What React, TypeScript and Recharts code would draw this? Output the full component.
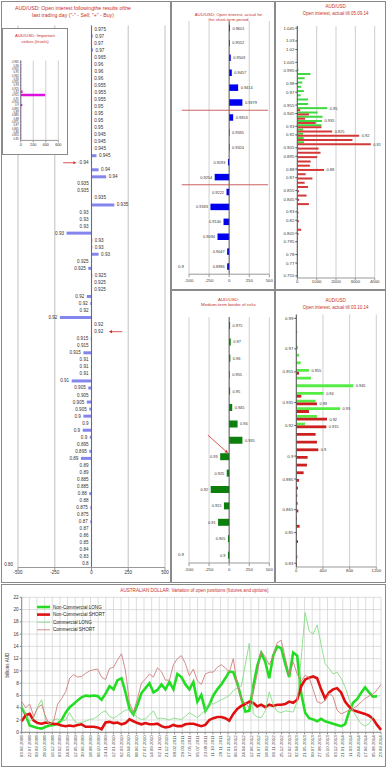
import React from 'react';
import {
  BarChart,
  Bar,
  LineChart,
  Line,
  XAxis,
  YAxis,
  CartesianGrid,
  ReferenceLine,
  LabelList,
  Legend,
} from 'recharts';

const FONT = '"Liberation Sans", Arial, sans-serif';
const TITLE_RED = '#c8302c';
const TICK_COLOR = '#333333';
const GRID = '#cfcfcf';
const ARROW_RED = '#d02828';

// --- open interest after the last trading day (left panel) ---
const lastDayStrikes = [
  '0.975', '0.97', '0.97', '0.97', '0.965', '0.96', '0.96', '0.96', '0.955', '0.955',
  '0.955', '0.95', '0.95', '0.95', '0.95', '0.945', '0.945', '0.945', '0.945', '0.94',
  '0.94', '0.94', '0.935', '0.935', '0.935', '0.935', '0.93', '0.93', '0.93', '0.93',
  '0.93', '0.93', '0.93', '0.925', '0.925', '0.925', '0.925', '0.925', '0.92', '0.92',
  '0.92', '0.92', '0.92', '0.92', '0.915', '0.915', '0.915', '0.91', '0.91', '0.91',
  '0.91', '0.905', '0.905', '0.905', '0.905', '0.9', '0.9', '0.9', '0.9', '0.895',
  '0.895', '0.89', '0.89', '0.89', '0.885', '0.885', '0.88', '0.88', '0.875', '0.875',
  '0.87', '0.87', '0.86', '0.85', '0.84', '0.83', '0.8',
];
const lastDayOI = [
  3, 8, 2, 10, 2, 2, 3, 2, 2, 3,
  2, 2, 3, 2, 2, 2, 2, 3, 34, -3,
  48, 100, -2, -2, 3, 155, -3, -3, -3, -170,
  5, 5, 48, -3, -22, 5, 2, 2, -32, -8,
  -3, -215, 2, 2, -5, -3, -55, -3, -3, -3,
  -135, -22, -3, -32, -15, -55, -3, -60, -12, -3,
  -15, -72, -3, -3, -3, -3, -15, -3, -8, -3,
  -8, -3, -3, -3, -3, -3, -3,
];
const lastDayAxisLabel = '0.80';

// --- important strikes (inset) ---
const levelStrikes = [
  '0.965', '0.96', '0.955', '0.95', '0.945', '0.94', '0.935', '0.93', '0.925', '0.92', '0.915', '0.91',
  '0.905', '0.9', '0.895', '0.89', '0.885', '0.88', '0.875', '0.87', '0.865', '0.86', '0.855', '0.85',
];
const levelWeights = [8, 8, 8, 8, 8, 8, 8, 8, 8, 30, 390, 8, 8, 25, 8, 8, 8, 8, 8, 8, 8, 8, 8, 8];

// --- short-term open interest ---
const shortStrikes = [
  '0.9601', '0.9552', '0.9503', '0.9457', '0.9414', '0.9379', '0.9353', '0.9335', '0.9324',
  '0.9293', '0.9254', '0.9222', '0.9183', '0.9140', '0.9094', '0.9047', '0.8986',
];
const shortOI = [10, 8, 20, 33, 112, 165, 50, 5, 5, -15, -180, -33, -233, -70, -145, -25, -25];

// --- medium-term border of risks ---
const mediumStrikes = [
  '0.975', '0.97', '0.96', '0.955', '0.95', '0.945', '0.94', '0.935', '0.93', '0.925', '0.92',
  '0.915', '0.91', '0.905', '0.9',
];
const mediumOI = [12, 20, 15, 8, 12, 38, 105, 165, -112, -30, -230, -65, -138, -15, -15];
const middleAxisLabel = '0.9';

// --- open interest till 05.09.14 ---
const sepStrikes = [
  '1.045', '1.04', '1.035', '1.03', '1.025', '1.02', '1.015', '1.01', '1.005', '1',
  '0.995', '0.99', '0.985', '0.98', '0.975', '0.97', '0.965', '0.96', '0.955', '0.95',
  '0.945', '0.94', '0.935', '0.93', '0.925', '0.92', '0.915', '0.91', '0.905', '0.9',
  '0.895', '0.89', '0.885', '0.88', '0.875', '0.87', '0.865', '0.86', '0.855', '0.85',
  '0.845', '0.84', '0.835', '0.83', '0.825', '0.82', '0.815', '0.81', '0.805', '0.8',
  '0.795', '0.79', '0.785', '0.78', '0.775', '0.77', '0.765', '0.76', '0.755',
];
const sepCalls = [
  0, 0, 0, 0, 0, 0, 0, 0, 0, 40,
  60, 680, 380, 260, 200, 340, 170, 550, 560, 1550,
  1050, 1300, 1280, 1250, 300, 300, 330, 350, 0, 0,
  0, 0, 0, 0, 0, 0, 0, 0, 0, 0,
  0, 0, 0, 0, 0, 0, 0, 0, 0, 0,
  0, 0, 0, 0, 0, 0, 0, 0, 0,
];
const sepPuts = [
  0, 0, 0, 0, 0, 0, 0, 0, 0, 0,
  0, 0, 0, 0, 0, 0, 0, 0, 0, 150,
  600, 400, 950, 1250, 1800, 3200, 2850, 3800, 1100, 1200,
  1030, 690, 650, 1380, 430, 780, 380, 550, 90, 480,
  100, 600, 40, 60, 40, 80, 30, 200, 60, 30,
  20, 30, 20, 30, 20, 20, 30, 20, 20,
];
const sepTicks = [
  '1.045', '1.03', '1.02', '1.005', '0.995', '0.98', '0.97', '0.955', '0.945', '0.93', '0.92', '0.905',
  '0.895', '0.88', '0.87', '0.855', '0.845', '0.83', '0.82', '0.805', '0.795', '0.78', '0.77', '0.755',
];
const sepCallTags = [['0.95', '0.95'], ['0.935', '0.935']];
const sepPutTags = [['0.925', '0.925'], ['0.92', '0.92'], ['0.91', '0.91'], ['0.88', '0.88']];

// --- open interest till 03.10.14 ---
const octStrikes = [
  '0.99', '0.985', '0.98', '0.975', '0.97', '0.965', '0.96', '0.955', '0.95', '0.945', '0.94',
  '0.935', '0.93', '0.925', '0.92', '0.915', '0.91', '0.905', '0.9', '0.895', '0.89', '0.885',
  '0.88', '0.875', '0.87', '0.865', '0.86', '0.855', '0.85', '0.845', '0.84', '0.835', '0.83',
];
const octCalls = [
  5, 5, 15, 5, 25, 40, 65, 190, 220, 855, 410,
  290, 657, 310, 130, 0, 0, 0, 0, 0, 0, 0,
  0, 0, 0, 0, 0, 0, 0, 0, 0, 0, 0,
];
const octPuts = [
  0, 0, 0, 0, 0, 0, 0, 40, 0, 0, 75,
  310, 190, 460, 450, 290, 310, 330, 170, 160, 110, 40,
  25, 15, 20, 30, 10, 50, 10, 25, 5, 15, 10,
];
const octTicks = ['0.99', '0.97', '0.955', '0.935', '0.92', '0.9', '0.885', '0.865', '0.85', '0.83'];
const octCallTags = [['0.955', '0.955'], ['0.945', '0.945'], ['0.94', '0.94'], ['0.93', '0.93']];
const octPutTags = [['0.935', '0.93'], ['0.925', '0.92'], ['0.92', '0.915'], ['0.905', '0.9']];

// --- COT: variation of open positions, billions AUD ---
const cotDates = [
  '03.06.2008', '22.07.2008', '09.09.2008', '28.10.2008', '16.12.2008', '03.02.2009', '24.03.2009', '12.05.2009',
  '30.06.2009', '18.08.2009', '06.10.2009', '24.11.2009', '12.01.2010', '02.03.2010', '20.04.2010', '08.06.2010',
  '27.07.2010', '14.09.2010', '02.11.2010', '21.12.2010', '08.02.2011', '29.03.2011', '17.05.2011', '05.07.2011',
  '23.08.2011', '11.10.2011', '29.11.2011', '17.01.2012', '06.03.2012', '24.04.2012', '12.06.2012', '31.07.2012',
  '18.09.2012', '06.11.2012', '25.12.2012', '12.02.2013', '02.04.2013', '21.05.2013', '09.07.2013', '27.08.2013',
  '15.10.2013', '03.12.2013', '21.01.2014', '11.03.2014', '29.04.2014', '17.06.2014', '05.08.2014', '23.09.2014',
];
const nonCommLong = [
  4.0, 2.8, 1.1, 0.9, 0.7, 0.6, 0.9, 1.1, 1.2, 1.4,
  2.0, 3.2, 4.1, 4.6, 5.2, 5.7, 6.0, 5.9, 6.0, 5.9,
  5.3, 6.3, 7.5, 7.0, 8.5, 8.8, 6.5, 3.8, 2.9, 4.5,
  6.4, 7.2, 8.0, 6.5, 6.9, 7.8, 7.0, 8.2, 7.0, 9.5,
  9.0, 7.8, 7.0, 8.2, 5.0, 6.1, 3.5, 4.5, 6.0, 7.0,
  7.8, 8.8, 9.9, 9.8, 8.0, 5.6, 3.4, 3.5, 7.5, 10.8,
  12.9, 11.5, 8.8, 12.5, 14.0, 13.7, 11.2, 9.0, 13.0, 12.5,
  6.4, 3.2, 2.3, 2.1, 1.8, 2.2, 1.8, 1.6, 1.4, 1.2,
  1.0, 1.3, 3.3, 4.8, 5.4, 6.4, 7.3, 6.5, 5.8, 5.9,
  null,
];
const nonCommShort = [
  1.8, 2.8, 3.0, 1.9, 1.5, 1.4, 1.6, 1.5, 1.4, 1.3,
  1.1, 1.0, 1.1, 1.0, 1.2, 1.3, 0.9, 0.9, 0.9, 0.8,
  0.5, 1.6, 1.7, 1.5, 1.6, 1.3, 1.5, 2.1, 1.8, 1.5,
  1.3, 1.5, 1.3, 1.3, 1.4, 1.0, 0.8, 0.9, 1.2, 1.0,
  1.0, 1.3, 1.4, 1.4, 1.2, 1.0, 1.2, 2.0, 2.3, 2.5,
  2.5, 2.3, 1.9, 3.0, 3.8, 4.3, 4.6, 5.0, 4.8, 4.2,
  4.5, 4.1, 4.5, 4.3, 4.5, 4.5, 4.6, 5.0, 4.8, 5.3,
  7.5, 8.6, 8.9, 9.1, 8.8, 7.0, 5.5, 6.5, 7.0, 7.2,
  6.5, 5.0, 4.2, 3.6, 3.4, 3.2, 3.0, 2.7, 2.2, 1.2,
  0.4,
];
const commLong = [
  4.5, 2.9, 1.8, 2.3, 4.2, 5.3, 2.0, 1.3, 2.0, 2.2,
  1.8, 2.0, 3.2, 2.0, 1.5, 1.6, 1.8, 2.1, 2.2, 2.6,
  3.2, 3.5, 2.6, 2.3, 2.7, 3.2, 3.6, 3.7, 3.2, 2.4,
  2.1, 2.2, 2.8, 3.5, 2.2, 2.3, 2.2, 2.0, 2.3, 2.2,
  2.1, 2.6, 3.2, 2.8, 2.4, 3.0, 3.6, 4.8, 4.6, 5.0,
  5.3, 5.6, 6.0, 6.8, 7.2, 7.5, 11.0, 14.5, 3.0, 2.5,
  2.4, 3.5, 6.6, 4.5, 3.4, 3.2, 3.5, 3.4, 3.3, 5.0,
  12.0, 19.5, 16.5, 16.0, 17.5, 14.3, 11.2, 10.4, 9.5, 9.8,
  8.8, 7.4, 5.4, 3.5, 2.4, 1.4, 1.0, 1.4, 2.5, null,
  null,
];
const commShort = [
  5.0, 4.0, 4.6, 2.6, 4.0, 4.5, 2.5, 1.3, 1.8, 4.6,
  5.5, 6.6, 8.8, 9.4, 9.0, 9.1, 9.6, 10.0, 10.2, 10.3,
  9.0, 8.6, 10.4, 10.6, 11.8, 12.8, 10.0, 4.8, 3.3, 5.5,
  8.0, 8.7, 9.5, 9.0, 10.5, 9.9, 8.5, 8.5, 11.0, 12.0,
  12.5, 11.2, 9.2, 10.3, 8.4, 7.8, 9.5, 9.8, 9.8, 10.6,
  11.0, 10.5, 9.8, 12.0, 7.8, 5.2, 4.8, 4.0, 6.4, 9.6,
  13.2, 12.3, 11.0, 12.5, 14.6, 15.0, 12.2, 9.3, 11.5, 9.5,
  8.3, 9.3, 8.9, 7.0, 5.0, 4.7, 5.2, 6.4, 5.8, 3.6,
  3.0, 3.3, 3.6, 3.9, 4.3, 4.9, 5.5, 5.9, 6.2, 6.9,
  7.8,
];
const cotYTicks = [0, 2, 4, 6, 8, 10, 12, 14, 16, 18, 20, 22];

const cotSeries = [
  { key: 'ncl', name: 'Non-Commercial LONG', color: '#22dd22', width: 2.6 },
  { key: 'ncs', name: 'Non-Commercial SHORT', color: '#e01010', width: 2.6 },
  { key: 'cl', name: 'Commercial LONG', color: '#86dc86', width: 0.9 },
  { key: 'cs', name: 'Commercial SHORT', color: '#cf7f7f', width: 0.9 },
];

// data tables built from the arrays above
const lastDayData = lastDayStrikes.map((s, i) => ({ i, s, v: lastDayOI[i] }));
const levelData = levelStrikes.map((s, i) => ({ i, s, v: levelWeights[i] }));
const shortData = shortStrikes.map((s, i) => ({ i, s, v: shortOI[i] }));
const mediumData = mediumStrikes.map((s, i) => ({ i, s, v: mediumOI[i] }));
const sepCallMap = Object.fromEntries(sepCallTags);
const sepPutMap = Object.fromEntries(sepPutTags);
const sepData = sepStrikes.map((s, k) => ({
  s, c: sepCalls[k], p: sepPuts[k], ct: sepCallMap[s] ?? '', pt: sepPutMap[s] ?? '',
}));
const octCallMap = Object.fromEntries(octCallTags);
const octPutMap = Object.fromEntries(octPutTags);
const octData = octStrikes.map((s, k) => ({
  s, c: octCalls[k], p: octPuts[k], ct: octCallMap[s] ?? '', pt: octPutMap[s] ?? '',
}));
const cotData = nonCommLong.map((v, i) => ({
  i, ncl: v, ncs: nonCommShort[i], cl: commLong[i], cs: commShort[i],
}));
const cotLast = cotData.length - 1;
const cotXTicks = cotDates.map((_, k) => (k * cotLast) / (cotDates.length - 1));

const tick = (size: number) => ({ fontSize: size, fill: TICK_COLOR, fontFamily: FONT });

// strike label beside a bar: right of positive bars, left of negative ones
const sideLabel = (vals: number[], size: number) => (p: any) => {
  const vb = p.viewBox && p.viewBox.width !== undefined ? p.viewBox : p;
  const { x, y, width, height } = vb;
  if (p.value === '' || p.value == null || x == null) return null;
  const neg = vals[p.index] < 0;
  const left = Math.min(x, x + width);
  const right = Math.max(x, x + width);
  return (
    <text
      x={neg ? left - 2.5 : right + 2.5}
      y={y + height / 2}
      textAnchor={neg ? 'end' : 'start'}
      dominantBaseline="central"
      fontSize={size}
      fill="#333"
      fontFamily={FONT}
    >
      {p.value}
    </text>
  );
};

const Arrow = (p: any) => {
  const { x1, y1, x2, y2 } = p;
  const a = Math.atan2(y2 - y1, x2 - x1);
  const len = 3.2;
  const w = 1.6;
  const bx = x2 - len * Math.cos(a);
  const by = y2 - len * Math.sin(a);
  const pts = `${x2},${y2} ${bx - w * Math.sin(a)},${by + w * Math.cos(a)} ${bx + w * Math.sin(a)},${by - w * Math.cos(a)}`;
  return (
    <g>
      <line x1={x1} y1={y1} x2={bx} y2={by} stroke={ARROW_RED} strokeWidth={0.8} />
      <polygon points={pts} fill={ARROW_RED} />
    </g>
  );
};

const DateTick = (p: any) => {
  const { x, y, payload } = p;
  const k = Math.round((payload.value * (cotDates.length - 1)) / cotLast);
  return (
    <text
      x={x}
      y={y}
      transform={`rotate(-90 ${x} ${y})`}
      textAnchor="end"
      dominantBaseline="central"
      fontSize={4.4}
      fill="#444"
      fontFamily={FONT}
    >
      {cotDates[k]}
    </text>
  );
};

const Frame = ({ left, top, width, height, bg }: any) => (
  <div
    style={{
      position: 'absolute', left, top, width, height, boxSizing: 'border-box',
      border: '1px solid #8a8a8a', background: bg ?? 'transparent',
    }}
  />
);

const Title = ({ x, y, lines, size = 4.6, gap = 6 }: any) => (
  <svg style={{ position: 'absolute', left: 0, top: 0, overflow: 'visible' }} width={1} height={1}>
    {lines.map((t: string, k: number) => (
      <text
        key={k}
        x={x}
        y={y + k * gap}
        textAnchor="middle"
        dominantBaseline="central"
        fontSize={size}
        fill={TITLE_RED}
        fontFamily={FONT}
      >
        {t}
      </text>
    ))}
  </svg>
);

const At = ({ left, top, children }: any) => (
  <div style={{ position: 'absolute', left, top }}>{children}</div>
);

const SplitChart = ({ data, vals, domainMax, axisLabel, fill, barSize, top, bottom, height, children }: any) => (
  <BarChart
    width={104}
    height={height}
    layout="vertical"
    data={data}
    margin={{ top, right: 5.7, bottom, left: 0 }}
  >
    <CartesianGrid horizontal={false} stroke={GRID} strokeWidth={1} />
    <XAxis
      type="number"
      domain={[-500, 500]}
      ticks={[-500, -250, 0, 250, 500]}
      height={10}
      tick={tick(4.3)}
      tickSize={3}
      tickMargin={2}
      stroke="#999"
      interval={0}
    />
    <YAxis
      type="number"
      dataKey="i"
      domain={[-0.5, domainMax]}
      ticks={[data.length - 1]}
      tickFormatter={() => axisLabel}
      width={18}
      axisLine={false}
      tickLine={false}
      tick={tick(4.3)}
      tickSize={3}
      tickMargin={2}
    />
    <ReferenceLine x={0} stroke="#444" strokeWidth={0.8} />
    {children}
    <Bar dataKey="v" fill={fill} barSize={barSize} isAnimationActive={false}>
      <LabelList dataKey="s" content={sideLabel(vals, 3.9)} />
    </Bar>
  </BarChart>
);

const CallPutChart = ({ data, ticks, max, xTicks, colors, barSize, top, bottom, height, yWidth, right }: any) => (
  <BarChart
    width={111}
    height={height}
    layout="vertical"
    data={data}
    margin={{ top, right, bottom, left: 0 }}
    barGap={0}
    barCategoryGap={0}
  >
    <CartesianGrid horizontal={false} stroke={GRID} strokeWidth={1} />
    <XAxis
      type="number"
      domain={[0, max]}
      ticks={xTicks}
      height={8}
      tick={tick(4.3)}
      tickSize={2}
      tickMargin={0}
      stroke="#999"
      interval={0}
    />
    <YAxis
      type="category"
      dataKey="s"
      ticks={ticks}
      interval={0}
      width={yWidth}
      tick={tick(4.3)}
      tickSize={2}
      tickMargin={1}
      stroke="#555"
    />
    <Bar dataKey="c" fill={colors[0]} barSize={barSize} isAnimationActive={false}>
      <LabelList dataKey="ct" content={sideLabel(data.map((d: any) => d.c), 3.9)} />
    </Bar>
    <Bar dataKey="p" fill={colors[1]} barSize={barSize} isAnimationActive={false}>
      <LabelList dataKey="pt" content={sideLabel(data.map((d: any) => d.p), 3.9)} />
    </Bar>
  </BarChart>
);

const CotLegend = () => (
  <svg width={90} height={32}>
    {cotSeries.map((s, k) => (
      <g key={s.key}>
        <line x1={2} x2={15} y1={4 + k * 7.6} y2={4 + k * 7.6} stroke={s.color} strokeWidth={s.width} />
        <text x={18} y={4 + k * 7.6} dominantBaseline="central" fontSize={4.6} fill="#222" fontFamily={FONT}>
          {s.name}
        </text>
      </g>
    ))}
  </svg>
);

export default function App() {
  return (
    <div
      style={{
        position: 'absolute', left: 0, top: 0, width: 387, height: 768,
        background: '#fff', overflow: 'hidden', fontFamily: FONT,
      }}
    >
      {/* left: open interest after the last trading day */}
      <Frame left={1} top={1} width={170} height={582} />
      <At left={0} top={0}>
        <BarChart
          width={171}
          height={583}
          layout="vertical"
          data={lastDayData}
          margin={{ top: 25.5, right: 6, bottom: 5.5, left: 0 }}
        >
          <CartesianGrid horizontal={false} stroke={GRID} strokeWidth={1.3} />
          <XAxis
            type="number"
            domain={[-500, 500]}
            ticks={[-500, -250, 0, 250, 500]}
            height={10}
            tick={tick(4.5)}
            tickSize={3}
            tickMargin={0}
            stroke="#999"
            interval={0}
          />
          <YAxis
            type="number"
            dataKey="i"
            domain={[-0.5, 76.5]}
            ticks={[76]}
            tickFormatter={() => lastDayAxisLabel}
            width={18}
            axisLine={false}
            tickLine={false}
            tick={tick(4.5)}
            tickSize={3}
            tickMargin={2}
          />
          <ReferenceLine x={0} stroke="#555" strokeWidth={0.8} />
          <ReferenceLine segment={[{ x: -193, y: 19 }, { x: -102, y: 19 }]} shape={Arrow} />
          <ReferenceLine segment={[{ x: 209, y: 43 }, { x: 118, y: 43 }]} shape={Arrow} />
          <Bar dataKey="v" fill="#8585ee" barSize={3} isAnimationActive={false}>
            <LabelList dataKey="s" content={sideLabel(lastDayOI, 4.6)} />
          </Bar>
        </BarChart>
      </At>
      <Title
        x={73}
        y={7.5}
        gap={7.5}
        size={5.2}
        lines={['AUD/USD: Open interest followingthe results ofthe', 'last trading day ("-" - Sell; "+" - Buy)']}
      />

      {/* inset: important strikes */}
      <Frame left={2} top={28} width={66} height={127} bg="#fff" />
      <At left={2} top={28}>
        <BarChart
          width={66}
          height={127}
          layout="vertical"
          data={levelData}
          margin={{ top: 32.6, right: 9.7, bottom: 2, left: 0 }}
        >
          <CartesianGrid horizontal={false} stroke={GRID} strokeWidth={1} />
          <XAxis
            type="number"
            domain={[0, 600]}
            ticks={[0, 200, 400, 600]}
            height={12.6}
            tick={tick(3.8)}
            tickSize={2}
            tickMargin={1}
            stroke="#999"
            interval={0}
          />
          <YAxis
            type="number"
            dataKey="i"
            domain={[-0.5, 23.5]}
            ticks={levelData.map((d) => d.i)}
            tickFormatter={(v: number) => levelStrikes[v] ?? ''}
            interval={0}
            width={18.7}
            axisLine={false}
            tickLine={false}
            tick={tick(2.7)}
            tickSize={1}
            tickMargin={1}
          />
          <ReferenceLine x={0} stroke="#666" strokeWidth={0.7} />
          <Bar dataKey="v" fill="#dd11dd" barSize={2.4} isAnimationActive={false} />
        </BarChart>
      </At>
      <Title x={35} y={35.5} gap={5.8} size={4.3} lines={['AUD/USD:  Important', 'strikes (levels)']} />

      {/* middle top: short-term period */}
      <Frame left={171} top={1} width={104} height={289} />
      <At left={171} top={0}>
        <SplitChart
          data={shortData}
          vals={shortOI}
          domainMax={16.5}
          axisLabel={middleAxisLabel}
          fill="#0000ee"
          barSize={6.5}
          top={20.8}
          bottom={5.8}
          height={290}
        >
          <ReferenceLine
            segment={[{ x: -590, y: 5.5 }, { x: 485, y: 5.5 }]}
            ifOverflow="visible"
            stroke="#c85050"
            strokeWidth={0.9}
          />
          <ReferenceLine
            segment={[{ x: -590, y: 10.5 }, { x: 485, y: 10.5 }]}
            ifOverflow="visible"
            stroke="#c85050"
            strokeWidth={0.9}
          />
        </SplitChart>
      </At>
      <Title x={228.5} y={14} gap={5.6} size={4.3} lines={['AUD/USD: Open interest, actual for', 'the short-term period']} />

      {/* right top: open interest till 05.09.14 */}
      <Frame left={275} top={1} width={111} height={289} />
      <At left={275} top={0}>
        <CallPutChart
          data={sepData}
          ticks={sepTicks}
          max={4000}
          xTicks={[0, 1000, 2000, 3000, 4000]}
          colors={['#40d840', '#d43838']}
          barSize={2}
          top={26}
          bottom={4}
          height={290}
          yWidth={22.3}
          right={11.3}
        />
      </At>
      <Title x={335.7} y={6.3} gap={7} size={4.5} lines={['AUD/USD', 'Open interest, actual till 05.09.14']} />

      {/* middle bottom: medium-term border of risks */}
      <Frame left={171} top={290} width={104} height={293} />
      <At left={171} top={290}>
        <SplitChart
          data={mediumData}
          vals={mediumOI}
          domainMax={14.5}
          axisLabel={middleAxisLabel}
          fill="#0c7f0c"
          barSize={7}
          top={27}
          bottom={8}
          height={291}
        >
          <ReferenceLine segment={[{ x: -265, y: 6.7 }, { x: -15, y: 7.8 }]} shape={Arrow} />
        </SplitChart>
      </At>
      <Title x={228.5} y={299} gap={5.6} size={4.4} lines={['AUD/USD:', 'Medium-term border of risks']} />

      {/* right bottom: open interest till 03.10.14 */}
      <Frame left={275} top={290} width={111} height={293} />
      <At left={275} top={290}>
        <CallPutChart
          data={octData}
          ticks={octTicks}
          max={1200}
          xTicks={[0, 400, 800, 1200]}
          colors={['#55ec45', '#cc2020']}
          barSize={2.8}
          top={24.5}
          bottom={6}
          height={291}
          yWidth={21.3}
          right={9.7}
        />
      </At>
      <Title x={335.7} y={300.5} gap={7} size={4.5} lines={['AUD/USD', 'Open interest, actual till 03.10.14']} />

      {/* bottom: COT open positions */}
      <Frame left={1} top={584} width={385} height={183} />
      <At left={0} top={583}>
        <LineChart width={387} height={185} data={cotData} margin={{ top: 14.3, right: 6, bottom: 2, left: 0 }}>
          <CartesianGrid stroke={GRID} strokeWidth={0.7} />
          <XAxis
            type="number"
            dataKey="i"
            domain={[0, cotLast]}
            ticks={cotXTicks}
            interval={0}
            height={33.7}
            tick={DateTick}
            tickSize={2}
            tickMargin={1}
            stroke="#888"
          />
          <YAxis
            type="number"
            domain={[0, 22]}
            ticks={cotYTicks}
            interval={0}
            width={21.7}
            tick={tick(4.6)}
            tickSize={2}
            tickMargin={1}
            stroke="#888"
          />
          <Legend
            layout="vertical"
            align="center"
            verticalAlign="middle"
            wrapperStyle={{ left: 35, top: 20, width: 90, height: 32 }}
            content={() => <CotLegend />}
          />
          {cotSeries.map((s) => (
            <Line
              key={s.key}
              type="linear"
              dataKey={s.key}
              name={s.name}
              stroke={s.color}
              strokeWidth={s.width}
              dot={false}
              isAnimationActive={false}
            />
          ))}
        </LineChart>
      </At>
      <Title
        x={194.5}
        y={590.5}
        size={4.6}
        lines={['AUSTRALIAN DOLLAR: Variation of open positions (futures and options)']}
      />
      <svg style={{ position: 'absolute', left: 0, top: 0, overflow: 'visible' }} width={1} height={1}>
        <text
          x={7.5}
          y={665}
          transform="rotate(-90 7.5 665)"
          textAnchor="middle"
          dominantBaseline="central"
          fontSize={4.6}
          fill="#333"
          fontFamily={FONT}
        >
          billions AUD
        </text>
      </svg>
    </div>
  );
}
